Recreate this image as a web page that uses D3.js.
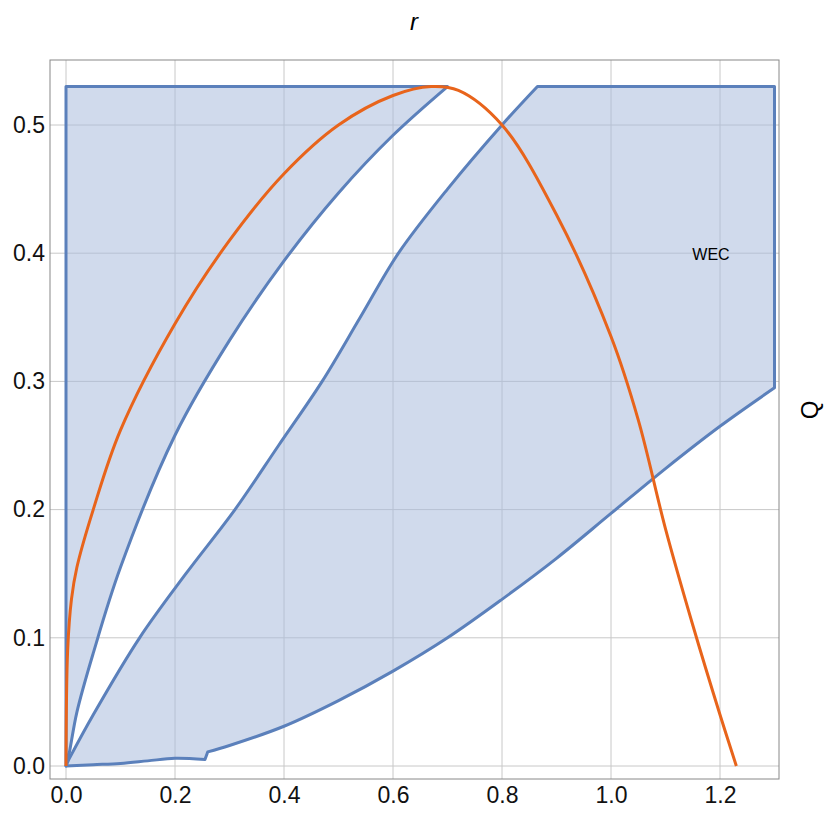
<!DOCTYPE html>
<html><head><meta charset="utf-8">
<script src="https://cdn.jsdelivr.net/npm/d3@7"></script>
<style>body{margin:0;background:#fff}</style></head>
<body><script>
var xTicks = [0, 0.2, 0.4, 0.6, 0.8, 1.0, 1.2];
var yTicks = [0, 0.1, 0.2, 0.3, 0.4, 0.5];
// region 1: left boundary, top, inner curve back down (corners repeated to keep them sharp)
var region1 = [[0,0],[0,0],[0,0.53],[0,0.53],[0.7,0.53],[0.7,0.53],[0.6,0.492],[0.5,0.447],[0.4,0.394],[0.3,0.332],[0.2,0.258],[0.1,0.155],[0.05,0.088],[0.02,0.042],[0.005,0.008],[0,0],[0,0]];
// region 2: lower-left curve, top, right edge, bottom curve back
var region2 = [[0.005,0.005],[0.005,0.005],[0.05,0.04],[0.135,0.1],[0.22,0.15],[0.31,0.2],[0.39,0.25],[0.47,0.3],[0.54,0.35],[0.61,0.4],[0.7,0.45],[0.8,0.5],[0.865,0.53],[0.865,0.53],
  [1.3,0.53],[1.3,0.53],[1.3,0.295],[1.3,0.295],[1.2,0.265],[1.1,0.232],[1.0,0.197],[0.9,0.162],[0.8,0.13],[0.7,0.1],[0.6,0.074],[0.5,0.051],[0.4,0.031],[0.3,0.016],[0.26,0.011],[0.26,0.011],[0.255,0.005],[0.255,0.005],
  [0.2,0.006],[0.15,0.004],[0.1,0.002],[0.05,0.001],[0,0],[0,0]];
var orange = [[0,0],[0.003,0.09],[0.01,0.13],[0.02,0.155],[0.05,0.2],[0.1,0.262],[0.2,0.345],[0.3,0.41],[0.4,0.462],[0.5,0.5],[0.6,0.523],[0.67,0.53],[0.72,0.527],[0.8,0.5],[0.9,0.43],[1.0,0.335],[1.05,0.27],[1.1,0.185],[1.15,0.11],[1.2,0.04],[1.23,0]];

var W = 830, H = 824;
var svg = d3.select("body").append("svg").attr("width", W).attr("height", H)
  .style("font-family", "Liberation Sans, Arial, sans-serif");
var x = d3.scaleLinear().domain([0, 1.3]).range([66, 774.5]);
var y = d3.scaleLinear().domain([0, 0.5]).range([766, 125]);
var L = 50, R = 779, T = 60, B = 779;

svg.append("g").selectAll("line.gx").data(xTicks).enter().append("line")
  .attr("x1", d => x(d)).attr("x2", d => x(d)).attr("y1", T).attr("y2", B)
  .attr("stroke", "#c8c8c8").attr("stroke-width", 1);
svg.append("g").selectAll("line.gy").data(yTicks).enter().append("line")
  .attr("y1", d => y(d)).attr("y2", d => y(d)).attr("x1", L).attr("x2", R)
  .attr("stroke", "#c8c8c8").attr("stroke-width", 1);

var line = d3.line().curve(d3.curveCatmullRom.alpha(0.5)).x(d => x(d[0])).y(d => y(d[1]));
[region1, region2].forEach(function(r) {
  svg.append("path").attr("d", line(r) + "Z")
    .attr("fill", "#a9bcdc").attr("fill-opacity", 0.55)
    .attr("stroke", "#5b80bb").attr("stroke-width", 3).attr("stroke-linejoin", "round");
});
svg.append("path").attr("d", line(orange))
  .attr("fill", "none").attr("stroke", "#e8641b").attr("stroke-width", 3);

svg.append("rect").attr("x", L).attr("y", T).attr("width", R - L).attr("height", B - T)
  .attr("fill", "none").attr("stroke", "#888").attr("stroke-width", 1);

var xa = svg.append("g").attr("transform", "translate(0," + B + ")")
  .call(d3.axisBottom(x).tickValues(xTicks).tickFormat(d3.format(".1f")).tickSize(0).tickPadding(8));
var ya = svg.append("g").attr("transform", "translate(" + L + ",0)")
  .call(d3.axisLeft(y).tickValues(yTicks).tickFormat(d3.format(".1f")).tickSize(0).tickPadding(5));
[xa, ya].forEach(function(a) {
  a.select(".domain").remove();
  a.selectAll("text").attr("font-size", 23).attr("fill", "#111").style("font-family", "Liberation Sans, Arial, sans-serif");
});

svg.append("text").attr("x", 414).attr("y", 30).attr("text-anchor", "middle")
  .attr("font-size", 24).attr("font-style", "italic").text("r");
svg.append("text").attr("transform", "translate(818,410) rotate(-90)").attr("text-anchor", "middle")
  .attr("font-size", 24).text("Q");
svg.append("text").attr("x", 711).attr("y", 260).attr("text-anchor", "middle")
  .attr("font-size", 16).text("WEC");
</script></body></html>
